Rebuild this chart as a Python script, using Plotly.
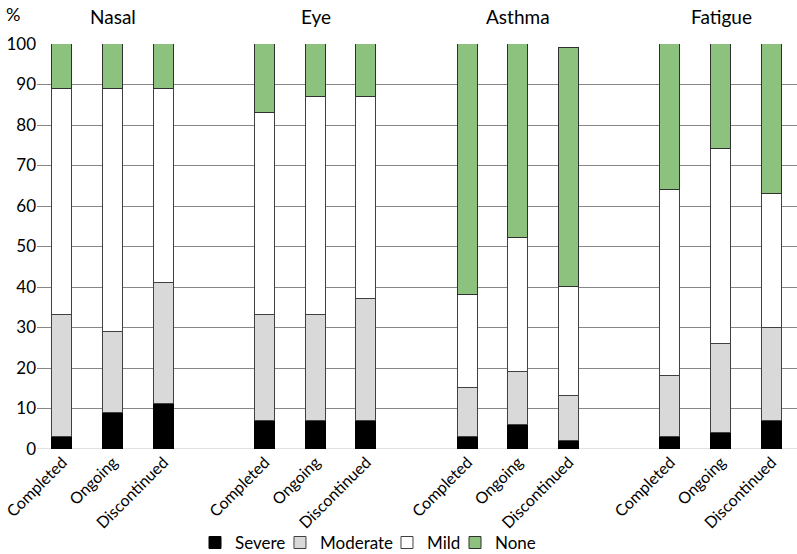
import plotly.graph_objects as go

groups = ["Nasal", "Eye", "Asthma", "Fatigue"]
statuses = ["Completed", "Ongoing", "Discontinued"]

# Values in %, order: Nasal(C,O,D), Eye(C,O,D), Asthma(C,O,D), Fatigue(C,O,D)
severe   = [3, 9, 11,   7, 7, 7,    3, 6, 2,    3, 4, 7]
moderate = [30, 20, 30, 26, 26, 30, 12, 13, 11, 15, 22, 23]
mild     = [56, 60, 48, 50, 54, 50, 23, 33, 27, 46, 48, 33]
none     = [11, 11, 11, 17, 13, 13, 62, 48, 59, 36, 26, 37]

series = [
    ("Severe", severe, "#000000", "#000000"),
    ("Moderate", moderate, "#d9d9d9", "#404040"),
    ("Mild", mild, "#ffffff", "#404040"),
    ("None", none, "#8dc27e", "#303030"),
]

# positions: 3 bars per group, one empty slot between groups
xpos = []
labels = []
for gi, g in enumerate(groups):
    for si, s in enumerate(statuses):
        xpos.append(gi * 4 + si)
        labels.append(s)

FONT = "Lato, 'Open Sans', sans-serif"
legend_ids = ["legend", "legend2", "legend3", "legend4"]
legend_x = [0.2079, 0.3197, 0.4605, 0.55]

fig = go.Figure()
for (name, vals, col, lc), lid in zip(series, legend_ids):
    fig.add_trace(go.Bar(
        x=xpos, y=vals, name=name, width=0.4, legend=lid,
        marker=dict(color=col, line=dict(color=lc, width=1)),
    ))

for gi, g in enumerate(groups):
    fig.add_annotation(x=gi * 4 + 1, y=1.067, xref="x", yref="paper",
                       text=g, showarrow=False, yanchor="middle",
                       font=dict(size=19, color="#000"))

fig.add_annotation(x=-0.032, y=1.074, xref="paper", yref="paper",
                   text="%", showarrow=False, xanchor="center",
                   yanchor="middle", font=dict(size=18, color="#000"))

legend_common = dict(orientation="h", xanchor="left", yref="paper",
                     y=-0.232, yanchor="middle", font=dict(size=17),
                     itemwidth=30, itemclick=False,
                     bgcolor="rgba(0,0,0,0)")
legend_layout = {}
for lid, lx in zip(legend_ids, legend_x):
    legend_layout[lid] = dict(legend_common, x=lx)

fig.update_layout(
    barmode="stack",
    width=797, height=554,
    margin=dict(l=37, r=0, t=44, b=105, autoexpand=False),
    paper_bgcolor="white", plot_bgcolor="white",
    font=dict(family=FONT, size=17, color="#000"),
    bargap=0,
    showlegend=True,
    xaxis=dict(range=[-0.5, 14.5], tickmode="array", tickvals=xpos,
               ticktext=labels, tickangle=-45, showgrid=False,
               zeroline=False, showline=False, ticks="", automargin=False,
               tickfont=dict(size=16)),
    yaxis=dict(range=[0, 100], dtick=10, showgrid=True, gridcolor="#878787",
               gridwidth=1, zeroline=False, showline=False, ticks="",
               automargin=False, tickfont=dict(size=17)),
    **legend_layout,
)
fig.add_shape(type="line", xref="paper", yref="y", x0=0, x1=1, y0=0, y1=0,
              line=dict(color="#d9d9d9", width=1.5), layer="below")

fig.write_html("out.html", config={"displayModeBar": False},
               post_script="document.body.style.margin='0';document.body.style.overflow='hidden';")
